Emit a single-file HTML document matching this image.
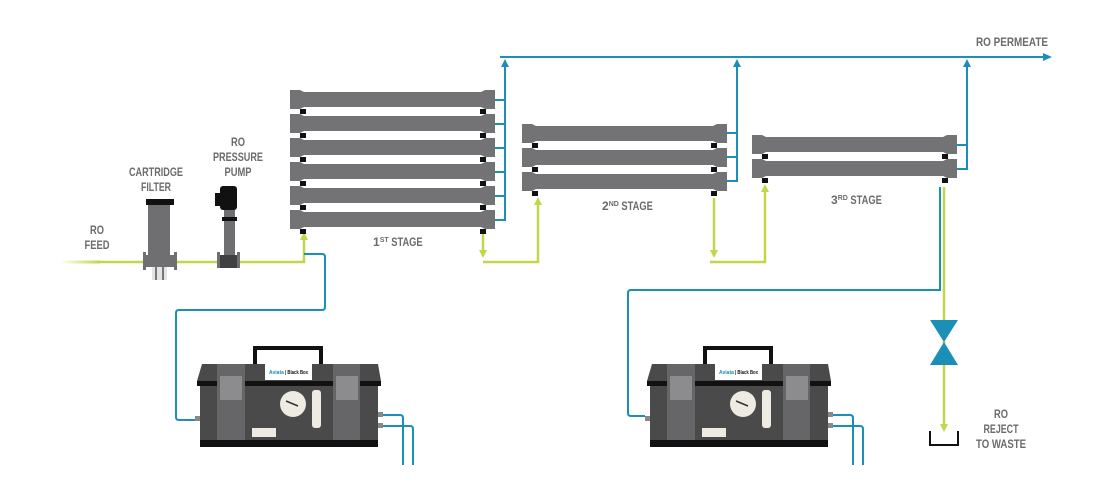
<!DOCTYPE html>
<html><head><meta charset="utf-8"><style>
html,body{margin:0;padding:0;background:#fff}
svg{display:block}
text{font-family:"Liberation Sans",sans-serif;font-size:12px;fill:#6b6b6d;font-weight:bold}
</style></head><body>
<svg width="1093" height="479" viewBox="0 0 1093 479" xmlns="http://www.w3.org/2000/svg">
<defs>
<linearGradient id="fade" x1="0" x2="1"><stop offset="0" stop-color="#c3d548" stop-opacity="0"/><stop offset="1" stop-color="#c3d548"/></linearGradient>
<g id="tube">
<path d="M0,0 H10 L14,2 H191 L195,0 H205 V19 H195 L191,17 H14 L10,19 H0 Z" fill="#737375"/>
</g>
<g id="box">
<rect x="53" y="6" width="70" height="4" fill="#111"/>
<rect x="53" y="6" width="4" height="20" fill="#111"/>
<rect x="119" y="6" width="4" height="20" fill="#111"/>
<path d="M2,24 H178 L181,41 H-3 Z" fill="#4a4a4b"/>
<rect x="-3" y="41" width="184" height="5" fill="#111"/>
<rect x="0" y="46" width="178" height="54" fill="#4a4a4b"/>
<rect x="0" y="100" width="178" height="7" fill="#111"/>
<rect x="17" y="24" width="28" height="76" fill="#666668"/>
<rect x="20" y="36" width="22" height="24" fill="#8c8c8e"/>
<rect x="133" y="24" width="27" height="76" fill="#666668"/>
<rect x="136" y="36" width="22" height="24" fill="#8c8c8e"/>
<rect x="65" y="22" width="47" height="18" fill="#fff"/>
<text x="69" y="34" textLength="15" lengthAdjust="spacingAndGlyphs" style="font-size:5px;fill:#1b8fb6">Aviata</text>
<text x="85" y="34" textLength="23" lengthAdjust="spacingAndGlyphs" style="font-size:5px;fill:#111">| Black Box</text>
<circle cx="93" cy="64" r="13" fill="#eeebe3"/>
<line x1="86" y1="61" x2="98" y2="66" stroke="#333" stroke-width="1.5"/>
<rect x="112" y="50" width="9" height="38" rx="3" fill="#eeebe3"/>
<rect x="52" y="88" width="24" height="9" fill="#eeebe3"/>
<rect x="-5" y="76" width="5" height="5" fill="#888"/>
<rect x="178" y="72" width="5" height="5" fill="#888"/>
<rect x="178" y="83" width="5" height="5" fill="#888"/>
</g>
</defs>

<g stroke="#1b8fb6" stroke-width="2" fill="none">
<line x1="500" y1="57" x2="1046" y2="57"/>
<polyline points="495,100 505,100 505,64"/>
<line x1="495" y1="124" x2="505" y2="124"/><line x1="495" y1="148" x2="505" y2="148"/>
<line x1="495" y1="172" x2="505" y2="172"/><line x1="495" y1="196" x2="505" y2="196"/>
<polyline points="495,220 505,220 505,100"/>
<polyline points="727,133 737,133 737,64"/>
<line x1="727" y1="157" x2="737" y2="157"/>
<polyline points="727,181 737,181 737,133"/>
<polyline points="957,145 967,145 967,64"/>
<polyline points="957,169 967,169 967,145"/>
</g>
<g fill="#1b8fb6">
<path d="M1052,57 L1043,53 L1043,61 Z"/>
<path d="M505,59 L501,67 L509,67 Z"/>
<path d="M737,59 L733,67 L741,67 Z"/>
<path d="M967,59 L963,67 L971,67 Z"/>
</g>
<text x="976" y="46" textLength="72" lengthAdjust="spacingAndGlyphs">RO PERMEATE</text>

<rect x="60" y="260.5" width="40" height="3" fill="url(#fade)"/>
<g stroke="#c3d548" stroke-width="2.5" fill="none">
<polyline points="98,262 304,262 304,240"/>
<polyline points="483,234 483,252"/>
<polyline points="483,262 538,262 538,204"/>
<polyline points="714,198 714,252"/>
<polyline points="710,262 765,262 765,191"/>
<polyline points="944,187 944,425"/>
</g>
<g fill="#c3d548">
<path d="M304,232 L300,240 L308,240 Z"/>
<path d="M483,258 L479,250 L487,250 Z"/>
<path d="M538,197 L534,205 L542,205 Z"/>
<path d="M714,258 L710,250 L718,250 Z"/>
<path d="M765,184 L761,192 L769,192 Z"/>
<path d="M944,432 L940,424 L948,424 Z"/>
</g>

<g>
<use href="#tube" x="290" y="90"/><use href="#tube" x="290" y="114"/>
<use href="#tube" x="290" y="138"/><use href="#tube" x="290" y="162"/>
<use href="#tube" x="290" y="186"/><use href="#tube" x="290" y="210"/>
<use href="#tube" x="522" y="124"/><use href="#tube" x="522" y="148"/><use href="#tube" x="522" y="172"/>
<use href="#tube" x="752" y="135"/><use href="#tube" x="752" y="159"/>
</g>
<g fill="#111">
<rect x="300" y="109" width="6" height="5"/><rect x="480" y="109" width="6" height="5"/>
<rect x="300" y="133" width="6" height="5"/><rect x="480" y="133" width="6" height="5"/>
<rect x="300" y="157" width="6" height="5"/><rect x="480" y="157" width="6" height="5"/>
<rect x="300" y="181" width="6" height="5"/><rect x="480" y="181" width="6" height="5"/>
<rect x="300" y="205" width="6" height="5"/><rect x="480" y="205" width="6" height="5"/>
<rect x="300" y="229" width="6" height="5"/><rect x="480" y="229" width="6" height="5"/>
<rect x="532" y="143" width="6" height="5"/><rect x="711" y="143" width="6" height="5"/>
<rect x="532" y="167" width="6" height="5"/><rect x="711" y="167" width="6" height="5"/>
<rect x="532" y="191" width="6" height="5"/><rect x="711" y="191" width="6" height="5"/>
<rect x="762" y="154" width="6" height="5"/><rect x="942" y="154" width="6" height="5"/>
<rect x="762" y="178" width="6" height="5"/><rect x="942" y="178" width="6" height="5"/>
</g>
<text x="373" y="246">1<tspan style="font-size:7px" dy="-4">ST</tspan><tspan dy="4" textLength="34" lengthAdjust="spacingAndGlyphs"> STAGE</tspan></text>
<text x="602" y="210">2<tspan style="font-size:7px" dy="-4">ND</tspan><tspan dy="4" textLength="34" lengthAdjust="spacingAndGlyphs"> STAGE</tspan></text>
<text x="831" y="204">3<tspan style="font-size:7px" dy="-4">RD</tspan><tspan dy="4" textLength="34" lengthAdjust="spacingAndGlyphs"> STAGE</tspan></text>

<g stroke="#1b8fb6" stroke-width="2" fill="none">
<path d="M304,254 H322 Q325,254 325,257 V307 Q325,310 322,310 H179 Q176,310 176,313 V417 Q176,420 179,420 H195"/>
<path d="M940,187 V290 H631 Q628,290 628,293 V413 Q628,416 631,416 H645"/>
<path d="M383,415 H400 Q403,415 403,418 V465"/>
<path d="M383,426 H410 Q413,426 413,429 V465"/>
<path d="M833,415 H850 Q853,415 853,418 V465"/>
<path d="M833,426 H860 Q863,426 863,429 V465"/>
</g>

<use href="#box" x="200" y="340"/>
<use href="#box" x="650" y="340"/>

<g>
<rect x="152" y="258" width="15" height="22" fill="#e4e4e4"/>
<rect x="155" y="258" width="2" height="22" fill="#777"/><rect x="162" y="258" width="2" height="22" fill="#777"/>
<rect x="146" y="199" width="28" height="6" fill="#111"/>
<rect x="148" y="205" width="22" height="52" fill="#6f6f71"/>
<rect x="143" y="252" width="3" height="18" fill="#6f6f71"/><rect x="174" y="252" width="3" height="18" fill="#6f6f71"/>
<rect x="146" y="255" width="28" height="12" fill="#6f6f71"/>
</g>
<g>
<rect x="220" y="186" width="17" height="24" rx="3" fill="#111"/>
<rect x="215" y="193" width="8" height="13" fill="#111"/>
<rect x="224" y="210" width="11" height="8" fill="#6f6f71"/>
<rect x="222" y="217" width="15" height="4" fill="#111"/>
<rect x="224" y="221" width="11" height="34" fill="#6f6f71"/>
<rect x="217" y="252" width="3" height="16" fill="#6f6f71"/><rect x="237" y="252" width="3" height="16" fill="#6f6f71"/>
<rect x="220" y="255" width="17" height="13" fill="#404042"/>
</g>
<text x="97" y="234" text-anchor="middle" textLength="14" lengthAdjust="spacingAndGlyphs">RO</text>
<text x="97" y="249" text-anchor="middle" textLength="25" lengthAdjust="spacingAndGlyphs">FEED</text>
<text x="156" y="176" text-anchor="middle" textLength="54" lengthAdjust="spacingAndGlyphs">CARTRIDGE</text>
<text x="156" y="191" text-anchor="middle" textLength="30" lengthAdjust="spacingAndGlyphs">FILTER</text>
<text x="238" y="146" text-anchor="middle" textLength="14" lengthAdjust="spacingAndGlyphs">RO</text>
<text x="238" y="161" text-anchor="middle" textLength="50" lengthAdjust="spacingAndGlyphs">PRESSURE</text>
<text x="238" y="176" text-anchor="middle" textLength="27" lengthAdjust="spacingAndGlyphs">PUMP</text>

<path d="M930,320 H958 L944,342 Z M930,365 H958 L944,342 Z" fill="#1b8fb6"/>
<polyline points="930,431 930,445 958,445 958,431" fill="none" stroke="#111" stroke-width="2"/>
<text x="1001" y="418" text-anchor="middle" textLength="14" lengthAdjust="spacingAndGlyphs">RO</text>
<text x="1001" y="433" text-anchor="middle" textLength="35" lengthAdjust="spacingAndGlyphs">REJECT</text>
<text x="1001" y="448" text-anchor="middle" textLength="50" lengthAdjust="spacingAndGlyphs">TO WASTE</text>
</svg>
</body></html>
